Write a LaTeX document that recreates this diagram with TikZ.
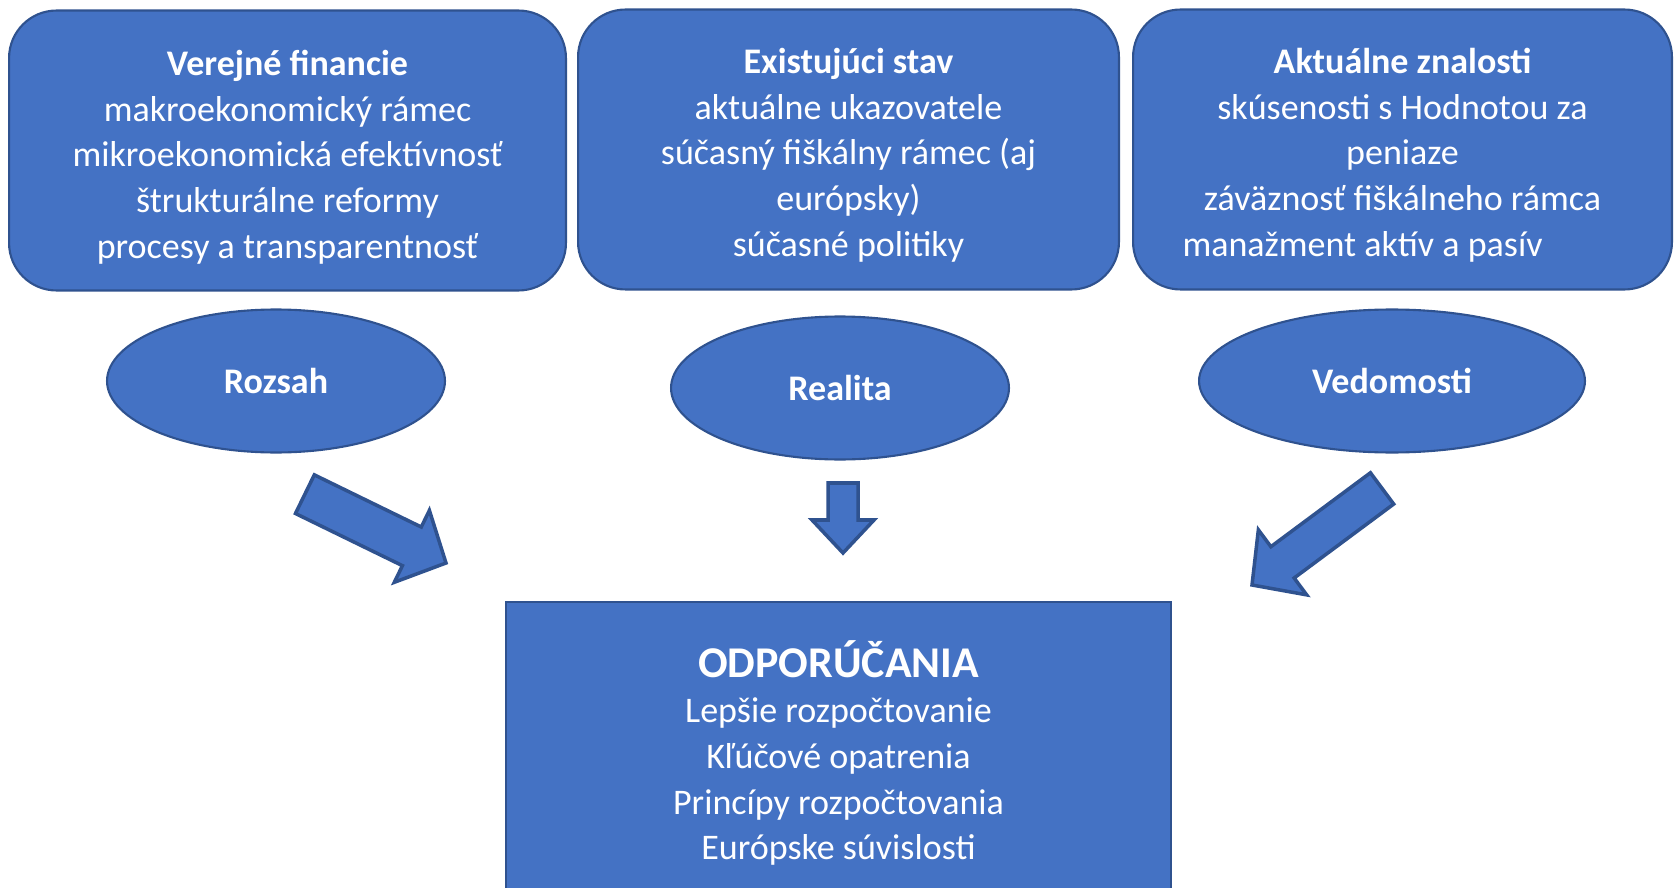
\documentclass[tikz,border=0pt]{standalone}
\usepackage{fontspec}
\setmainfont{Carlito}
\usetikzlibrary{shapes.geometric}
\definecolor{boxfill}{HTML}{4472C4}
\definecolor{boxline}{HTML}{2F528F}

\begin{document}
\begin{tikzpicture}[
        x=0.02cm, y=-0.02cm,
        topbox/.style={draw=boxline, fill=boxfill, line width=1.2pt, rounded corners=0.95cm, minimum height=5.6cm, inner sep=0pt},
        boxtext/.style={text=white, align=center, inner sep=0pt, font=\fontsize{20.5}{26}\selectfont},
        oval/.style={ellipse, draw=boxline, fill=boxfill, line width=1.2pt, minimum width=6.76cm, minimum height=2.86cm, text=white, font=\fontsize{20.5}{26}\selectfont\bfseries},
        blockarrow/.style={draw=boxline, fill=boxfill, line width=2pt},
        resultbox/.style={rectangle, draw=boxline, fill=boxfill, line width=1.2pt, minimum width=13.3cm, minimum height=6.04cm, inner sep=0pt, text=white, align=center, font=\fontsize{20.5}{26}\selectfont}
    ]
        \useasboundingbox (0,0) rectangle (1675,888);

        % upper boxes
        \node[topbox, minimum width=11.14cm] (finance) at (287.5,150.5) {};
        \node[boxtext] (financeText) at (287.5,157) {\textbf{Verejné financie}\\makroekonomický rámec\\mikroekonomická efektívnosť\\štrukturálne reformy\\procesy a transparentnosť};

        \node[topbox, minimum width=10.82cm] (state) at (848.5,149.5) {};
        \node[boxtext] (stateText) at (848.5,155) {\textbf{Existujúci stav}\\aktuálne ukazovatele\\súčasný fiškálny rámec (aj\\európsky)\\súčasné politiky};

        \node[topbox, minimum width=10.78cm] (knowledge) at (1402.5,149.5) {};
        \node[boxtext] (knowledgeText) at (1402.5,155) {\textbf{Aktuálne znalosti}\\skúsenosti s Hodnotou za\\peniaze\\záväznosť fiškálneho rámca\\manažment aktív a pasív\hspace*{1.6cm}};

        % ellipses
        \node[oval] (scope) at (276,381) {Rozsah};
        \node[oval] (reality) at (840,388) {Realita};
        \node[oval, minimum width=7.72cm] (insight) at (1392,381) {Vedomosti};

        % arrows (tip at the origin of each scope)
        \begin{scope}[shift={(446,563)}, rotate=-26]
            \draw[blockarrow] (0,0) -- (-38,40) -- (-38,21.5) -- (-157,21.5) -- (-157,-21.5) -- (-38,-21.5) -- (-38,-40) -- cycle;
        \end{scope}
        \begin{scope}[shift={(843,553)}, rotate=-90]
            \draw[blockarrow] (0,0) -- (-33,31) -- (-33,15) -- (-70,15) -- (-70,-15) -- (-33,-15) -- (-33,-31) -- cycle;
        \end{scope}
        \begin{scope}[shift={(1252,585)}, rotate=-143.4]
            \draw[blockarrow] (0,0) -- (-38,40.5) -- (-38,19.5) -- (-162,19.5) -- (-162,-19.5) -- (-38,-19.5) -- (-38,-40.5) -- cycle;
        \end{scope}

        % bottom box
        \node[resultbox] (advice) at (838.5,753) {{\fontsize{25}{30}\selectfont\bfseries ODPORÚČANIA}\\Lepšie rozpočtovanie\\Kľúčové opatrenia\\Princípy rozpočtovania\\Európske súvislosti};
    \end{tikzpicture}
\end{document}
